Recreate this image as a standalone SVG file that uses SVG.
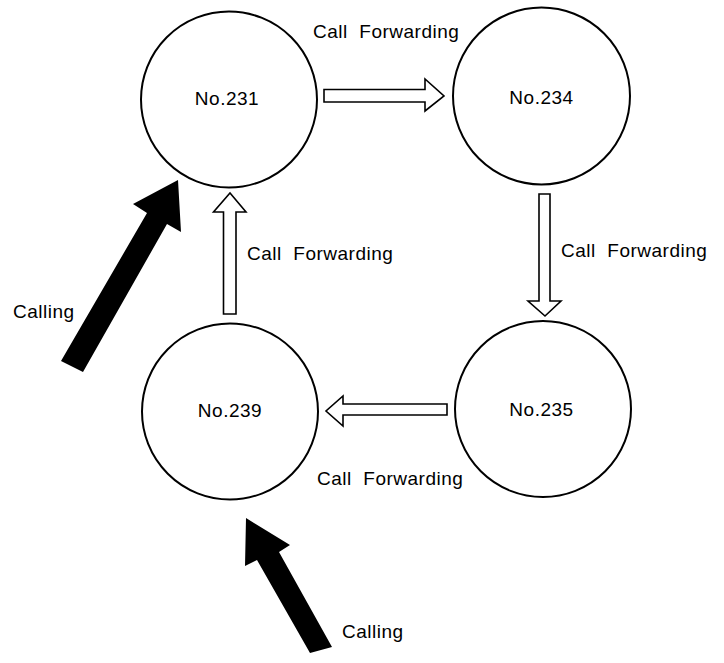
<svg xmlns="http://www.w3.org/2000/svg" width="724" height="663" viewBox="0 0 724 663">
<style>
.node{fill:#fff;stroke:#000;stroke-width:2}
.lbl{font-family:"Liberation Sans",Arial,sans-serif;font-size:19px;letter-spacing:0.5px;fill:#000}
.hollow{fill:#fff;stroke:#000;stroke-width:1.6;stroke-linejoin:miter}
.solid{fill:#000;stroke:none}
</style>
<rect width="724" height="663" fill="#fff"/>
<g id="connectors">
<polygon class="hollow" points="324,89.5 425,89.5 425,79 444,96 425,111 425,102 324,102"/>
<polygon class="hollow" points="539,194 550,194 550,301 561,301 545,316 528,301 539,301"/>
<polygon class="hollow" points="447,404 343,404 343,396 326,411 343,426 343,415 447,415"/>
<polygon class="hollow" points="223.5,314 236,314 236,212 246,212 230,193 213.5,212 223.5,212"/>
<polygon class="solid" points="61,361 83,372 167,224 181,232 178,180 133,204 147,213"/>
<polygon class="solid" points="310,653 332,647 279,552 290,545 246,518 245,566 257,560"/>
<text class="lbl" x="313" y="37.5" xml:space="preserve">Call  Forwarding</text>
<text class="lbl" x="561" y="256.5" xml:space="preserve">Call  Forwarding</text>
<text class="lbl" x="317" y="485" xml:space="preserve">Call  Forwarding</text>
<text class="lbl" x="247" y="260" xml:space="preserve">Call  Forwarding</text>
<text class="lbl" x="13" y="318">Calling</text>
<text class="lbl" x="342" y="638">Calling</text>
</g>
<g id="n231"><circle class="node" cx="229" cy="99.5" r="88"/><text class="lbl" x="227" y="105" text-anchor="middle">No.231</text></g>
<g id="n234"><circle class="node" cx="541.5" cy="96" r="88.5"/><text class="lbl" x="541.5" y="104" text-anchor="middle">No.234</text></g>
<g id="n235"><circle class="node" cx="543" cy="409" r="88"/><text class="lbl" x="541.5" y="416" text-anchor="middle">No.235</text></g>
<g id="n239"><circle class="node" cx="230" cy="411.5" r="88"/><text class="lbl" x="230" y="417" text-anchor="middle">No.239</text></g>
</svg>
